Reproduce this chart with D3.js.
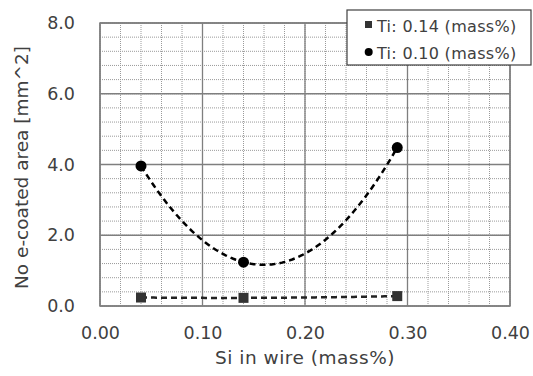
<!DOCTYPE html>
<html>
<head>
<meta charset="utf-8">
<script src="https://cdn.jsdelivr.net/npm/d3@7"></script>
<style>
  body { margin: 0; background: #fff; }
  text { font-family: "DejaVu Sans", Verdana, sans-serif; fill: #404040; }
</style>
</head>
<body>
<svg id="chart" width="533" height="376"></svg>
<script>
// data
const siTi014 = [0.04, 0.14, 0.29];
const areaTi014 = [0.24, 0.23, 0.28];
const siTi010 = [0.04, 0.14, 0.29];
const areaTi010 = [3.96, 1.24, 4.48];
const xTicks = [0, 0.1, 0.2, 0.3, 0.4];
const yTicks = [0, 2, 4, 6, 8];
const legendLabels = ["Ti: 0.14 (mass%)", "Ti: 0.10 (mass%)"];

const svg = d3.select("#chart");
const m = { left: 100, right: 510, top: 23, bottom: 306 };

const x = d3.scaleLinear().domain([0, 0.4]).range([m.left, m.right]);
const y = d3.scaleLinear().domain([0, 8]).range([m.bottom, m.top]);

// minor grid
const minorX = d3.range(0, 0.4001, 0.02);
const minorY = d3.range(0, 8.001, 0.4);
svg.append("g").selectAll("line").data(minorX).join("line")
  .attr("x1", d => x(d)).attr("x2", d => x(d))
  .attr("y1", m.top).attr("y2", m.bottom)
  .attr("stroke", "#9a9a9a").attr("stroke-width", 1)
  .attr("stroke-dasharray", "1,1");
svg.append("g").selectAll("line").data(minorY).join("line")
  .attr("y1", d => y(d)).attr("y2", d => y(d))
  .attr("x1", m.left).attr("x2", m.right)
  .attr("stroke", "#9a9a9a").attr("stroke-width", 1)
  .attr("stroke-dasharray", "1,1");

// major grid
svg.append("g").selectAll("line").data(xTicks).join("line")
  .attr("x1", d => x(d)).attr("x2", d => x(d))
  .attr("y1", m.top).attr("y2", m.bottom)
  .attr("stroke", "#7f7f7f").attr("stroke-width", 1.3);
svg.append("g").selectAll("line").data(yTicks).join("line")
  .attr("y1", d => y(d)).attr("y2", d => y(d))
  .attr("x1", m.left).attr("x2", m.right)
  .attr("stroke", "#7f7f7f").attr("stroke-width", 1.3);

svg.append("rect")
  .attr("x", m.left).attr("y", m.top)
  .attr("width", m.right - m.left).attr("height", m.bottom - m.top)
  .attr("fill", "none").attr("stroke", "#7f7f7f").attr("stroke-width", 1.5);

// axes
const xAxis = svg.append("g").attr("transform", `translate(0,${m.bottom})`)
  .call(d3.axisBottom(x).tickValues(xTicks).tickFormat(d3.format(".2f")).tickSize(0).tickPadding(21));
const yAxis = svg.append("g").attr("transform", `translate(${m.left},0)`)
  .call(d3.axisLeft(y).tickValues(yTicks).tickFormat(d3.format(".1f")).tickSize(0).tickPadding(25));
[xAxis, yAxis].forEach(a => {
  a.select(".domain").remove();
  a.selectAll("text").attr("font-size", 17.5).attr("font-family", "DejaVu Sans").attr("fill", "#404040");
});

svg.append("text")
  .attr("x", (m.left + m.right) / 2).attr("y", 364)
  .attr("text-anchor", "middle").attr("font-size", 18.5)
  .attr("letter-spacing", 0.5)
  .text("Si in wire (mass%)");
svg.append("text")
  .attr("transform", `translate(28,${(m.top + m.bottom) / 2 + 3}) rotate(-90)`)
  .attr("text-anchor", "middle").attr("font-size", 18.5)
  .text("No e-coated area [mm^2]");

// quadratic trendline through the data (least squares, order 2)
function quadFit(xs, ys) {
  const n = xs.length;
  let s = [0, 0, 0, 0, 0], t = [0, 0, 0];
  for (let i = 0; i < n; i++) {
    for (let k = 0; k < 5; k++) s[k] += Math.pow(xs[i], k);
    for (let k = 0; k < 3; k++) t[k] += ys[i] * Math.pow(xs[i], k);
  }
  const A = [[s[0], s[1], s[2], t[0]], [s[1], s[2], s[3], t[1]], [s[2], s[3], s[4], t[2]]];
  for (let c = 0; c < 3; c++) {
    for (let r = c + 1; r < 3; r++) {
      const f = A[r][c] / A[c][c];
      for (let k = c; k < 4; k++) A[r][k] -= f * A[c][k];
    }
  }
  const b = [0, 0, 0];
  for (let r = 2; r >= 0; r--) {
    let v = A[r][3];
    for (let k = r + 1; k < 3; k++) v -= A[r][k] * b[k];
    b[r] = v / A[r][r];
  }
  return xv => b[0] + b[1] * xv + b[2] * xv * xv;
}

function trend(xs, ys, color) {
  const f = quadFit(xs, ys);
  const pts = d3.range(0, 101).map(i => {
    const xv = xs[0] + (xs[xs.length - 1] - xs[0]) * i / 100;
    return [xv, f(xv)];
  });
  svg.append("path")
    .attr("d", d3.line().x(d => x(d[0])).y(d => y(d[1]))(pts))
    .attr("fill", "none").attr("stroke", color)
    .attr("stroke-width", 2.5).attr("stroke-dasharray", "6,4");
}

trend(siTi014, areaTi014, "#222");
trend(siTi010, areaTi010, "#000");

svg.append("g").selectAll("rect").data(siTi014).join("rect")
  .attr("x", (d, i) => x(d) - 5).attr("y", (d, i) => y(areaTi014[i]) - 5)
  .attr("width", 10).attr("height", 10).attr("fill", "#333");
svg.append("g").selectAll("circle").data(siTi010).join("circle")
  .attr("cx", d => x(d)).attr("cy", (d, i) => y(areaTi010[i]))
  .attr("r", 5.5).attr("fill", "#000");

// legend
const lg = svg.append("g");
lg.append("rect").attr("x", 347).attr("y", 10).attr("width", 184).attr("height", 55)
  .attr("fill", "#fff").attr("stroke", "#404040").attr("stroke-width", 1.2);
lg.append("rect").attr("x", 365).attr("y", 21).attr("width", 7).attr("height", 7).attr("fill", "#333");
lg.append("circle").attr("cx", 368.7).attr("cy", 52).attr("r", 4).attr("fill", "#000");
lg.selectAll("text.lab").data(legendLabels).join("text").attr("class", "lab")
  .attr("x", 377).attr("y", (d, i) => 31.5 + i * 27.5)
  .attr("font-size", 16).attr("letter-spacing", 0.3).text(d => d);
</script>
</body>
</html>
